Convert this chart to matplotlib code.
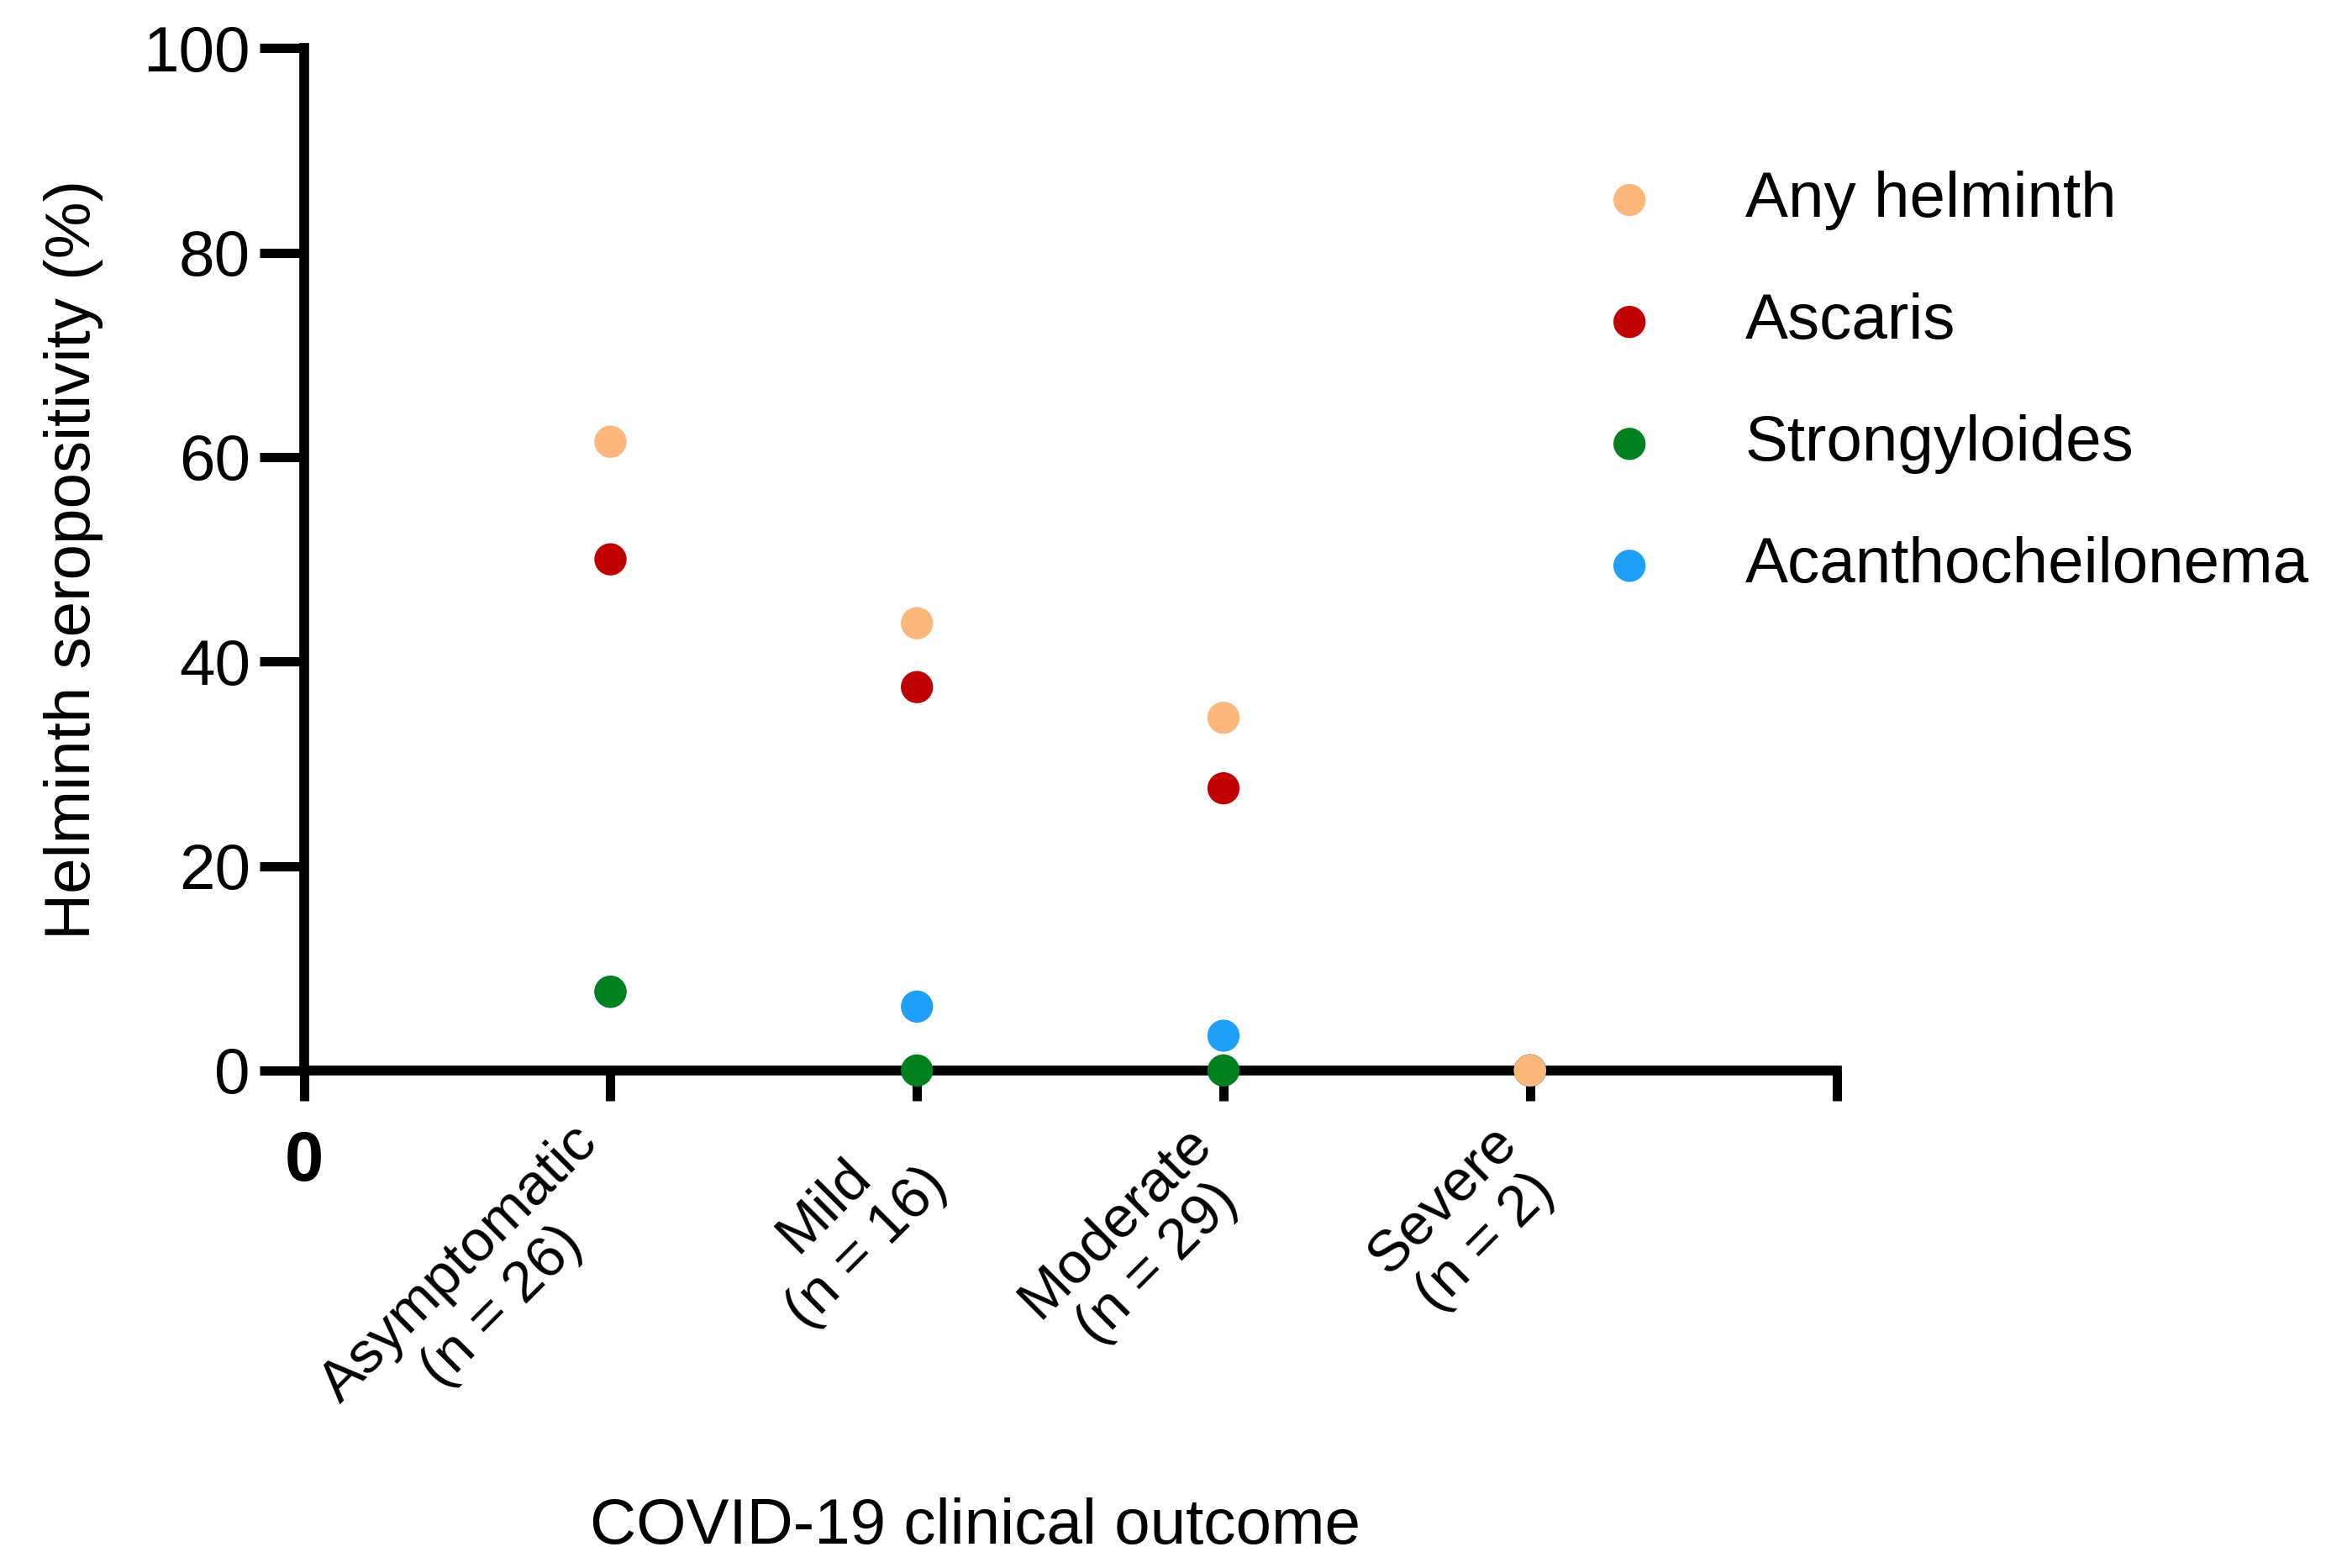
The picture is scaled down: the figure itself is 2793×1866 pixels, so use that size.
import numpy as np
import matplotlib
matplotlib.use('Agg')
import matplotlib.pyplot as plt
from matplotlib.transforms import ScaledTranslation

plt.rcParams['font.family'] = ['Liberation Sans', 'DejaVu Sans']

# data (percent seropositive by outcome group)
categories = ['Asymptomatic\n(n = 26)', 'Mild\n(n = 16)', 'Moderate\n(n = 29)', 'Severe\n(n = 2)']
any_helminth = [61.5, 43.75, 34.5, 0.0]
ascaris = [50.0, 37.5, 27.6, 0.0]
strongyloides = [7.7, 0.0, 0.0, 0.0]
acantho = [7.7, 6.25, 3.4, 0.0]

series = [
    ('Any helminth', any_helminth, '#FDB77C'),
    ('Ascaris', ascaris, '#C00000'),
    ('Strongyloides', strongyloides, '#00801E'),
    ('Acanthocheilonema', acantho, '#1E9FF8'),
]
# draw order so that overlapping points at zero look like the original
draw_order = [1, 3, 2, 0]

fig = plt.figure(figsize=(13.965, 9.33), dpi=200)
ax = fig.add_axes([0.1295, 0.3173, 0.653, 0.652])

x = np.arange(1, len(categories) + 1)
handles = {}
for i in draw_order:
    name, vals, col = series[i]
    h = ax.scatter(x, vals, s=190, color=col, label=name, zorder=3 + draw_order.index(i),
                   clip_on=False, edgecolors='none')
    handles[i] = h

ax.set_xlim(0, 5)
ax.set_ylim(0, 100)
ax.set_yticks([0, 20, 40, 60, 80, 100])
ax.set_xticks([0, 1, 2, 3, 4, 5])
ax.set_xticklabels([''] + categories + [''])

for s in ['top', 'right']:
    ax.spines[s].set_visible(False)
for s in ['left', 'bottom']:
    ax.spines[s].set_linewidth(4.2)

ax.tick_params(axis='y', length=19, width=4.0, labelsize=27.5, pad=4)
ax.tick_params(axis='x', length=13, width=4.0, labelsize=25, pad=4)

offset = ScaledTranslation(-0.24, -0.03, fig.dpi_scale_trans)
for lab in ax.get_xticklabels():
    lab.set_rotation(45)
    lab.set_ha('right')
    lab.set_va('top')
    lab.set_rotation_mode('anchor')
    lab.set_multialignment('center')
    lab.set_linespacing(1.15)
    lab.set_transform(lab.get_transform() + offset)

ax.text(0, -5.8, '0', ha='center', va='top', fontsize=30, fontweight='bold',
        transform=ax.transData, clip_on=False)

ax.set_ylabel('Helminth seropositivity (%)', fontsize=27.5, labelpad=17)
fig.text(0.4155, 0.026, 'COVID-19 clinical outcome', ha='center', va='center', fontsize=27.5)

leg = fig.legend([handles[i] for i in range(4)], [series[i][0] for i in range(4)],
                 loc='upper left', bbox_to_anchor=(0.656, 0.928), frameon=False,
                 fontsize=27.5, handlelength=1.0, handletextpad=1.3, labelspacing=0.97,
                 scatterpoints=1, markerscale=1.0)

fig.savefig('out.png', dpi=200, facecolor='white')
